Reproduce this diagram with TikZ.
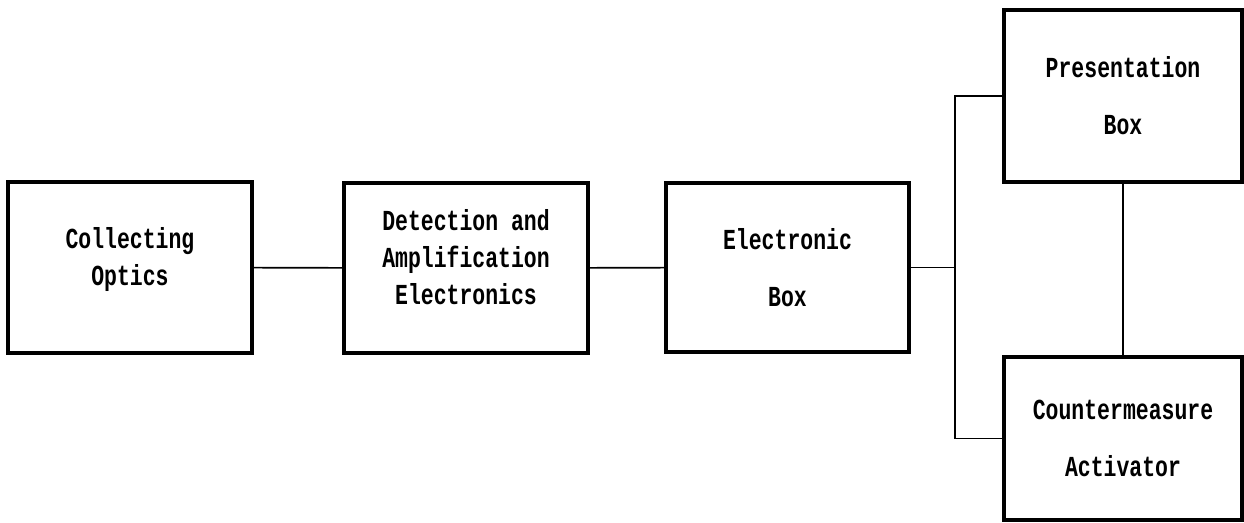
\documentclass[tikz,border=0pt]{standalone}
\usepackage{fontspec}
\setmonofont[FakeStretch=0.74]{Liberation Mono Bold}
\tikzset{
block/.style={draw, line width=3.5pt, rectangle, inner sep=0pt, align=center,
  font=\ttfamily\fontsize{29}{37}\selectfont},
raised/.style={text depth=22pt},
wire/.style={line width=1.6pt}
}

\begin{document}
\begin{tikzpicture}[x=1pt, y=-1pt]
  \useasboundingbox (0,0) rectangle (1244,522);
  \node[block, raised, minimum width=244pt, minimum height=171pt] (optics) at (130,267.5) {Collecting\\Optics};
  \node[block, raised, minimum width=244pt, minimum height=170pt] (detect) at (466,268) {Detection and\\Amplification\\Electronics};
  \node[block, minimum width=243pt, minimum height=169pt] (elec) at (787.5,267.5) {Electronic\\[20pt]Box};
  \node[block, minimum width=238pt, minimum height=172pt] (present) at (1123,96) {Presentation\\[20pt]Box};
  \node[block, minimum width=238pt, minimum height=163pt] (counter) at (1123,438.5) {Countermeasure\\[20pt]Activator};
  \coordinate (jn) at (955,267.5);

  \draw[wire] (optics) -- (detect);
  \draw[wire] (detect) -- (elec);
  \draw[wire] (elec) -- (jn);
  \draw[wire] (present.west) -| (jn) |- (counter.west);
  \draw[wire] (present) -- (counter);
\end{tikzpicture}
\end{document}
